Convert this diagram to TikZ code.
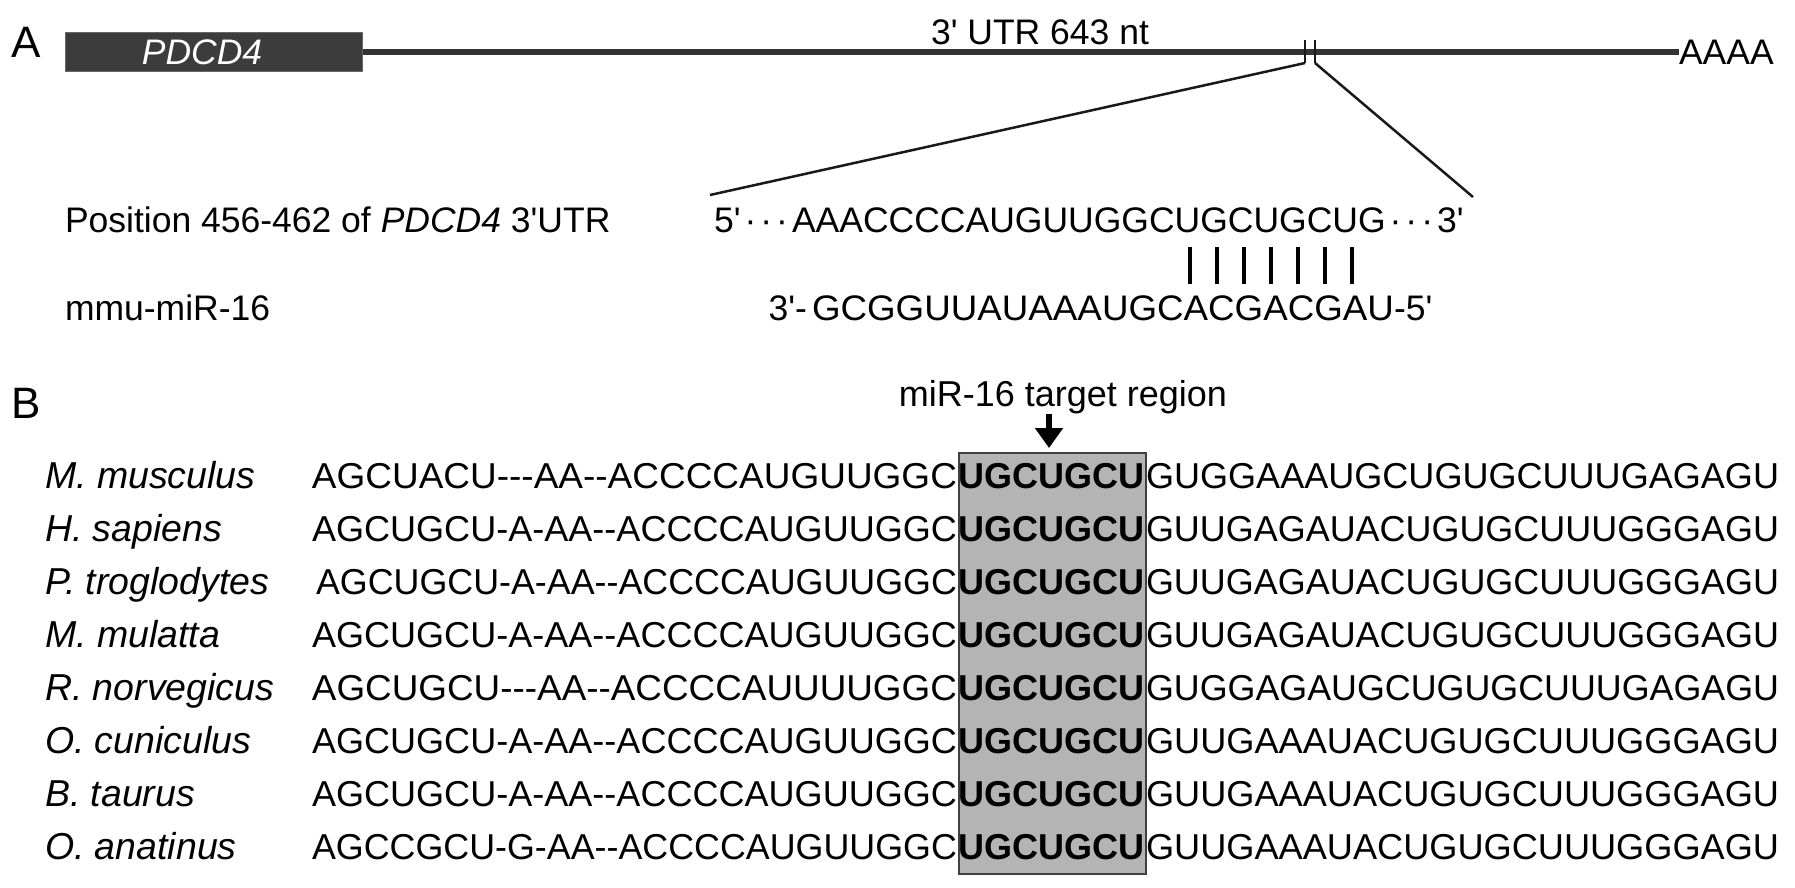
\documentclass[tikz,border=0pt]{standalone}
\usepackage{fontspec}
\usepackage{graphicx}
\setmainfont{Liberation Sans}
\usetikzlibrary{arrows.meta}
\newcommand\hy{\hbox{-}}
\newcommand\q{\textquotesingle}
\newcommand\dotsep{\kern4pt}
\newcommand\md{·}
\definecolor{genegray}{HTML}{3C3C3C}
\definecolor{boxgray}{HTML}{B4B4B4}
\begin{document}
\begin{tikzpicture}[x=1pt,y=-1pt,
  lab/.style={inner sep=0pt, outer sep=0pt, font=\fontsize{44}{48}\selectfont},
  txt/.style={inner sep=0pt, outer sep=0pt, font=\fontsize{35.5}{40}\selectfont},
  seq/.style={inner sep=0pt, outer sep=0pt, font=\fontsize{36}{40}\selectfont},
  bseq/.style={seq, font=\fontsize{36}{40}\selectfont\bfseries},
  spc/.style={seq, font=\fontsize{37.5}{40}\selectfont\itshape},
  thin/.style={line width=2.5pt, black!90},
  pair/.style={line width=4pt, black},
]
\useasboundingbox (0,0) rectangle (1795,887);

% ---------- Panel A ----------
\node[lab, anchor=base west] (labA) at (11,57) {A};
\node[draw=black!60, line width=1pt, fill=genegray, minimum width=297pt, minimum height=39pt,
      inner sep=0pt, anchor=north west] (cds) at (65,32) {};
\node[txt, text=white, font=\fontsize{35.5}{40}\selectfont\itshape] (cdslab) at (202,52) {PDCD4};
\coordinate (utrend) at (1679,52);
\draw[line width=6pt, black!80] (cds.east) -- (utrend);
\node[txt, anchor=west] (polyA) at (utrend) {AAAA};
\node[txt, anchor=base] (utrlab) at (1040,44) {3\q{} UTR 643 nt};

\coordinate (t1top) at (1305,40);
\coordinate (t1bot) at (1305,63);
\coordinate (t2top) at (1315,40);
\coordinate (t2bot) at (1315,63);
\draw[thin] (t1top) -- (t1bot);
\draw[thin] (t2top) -- (t2bot);
\coordinate (zl) at (710,195);
\coordinate (zr) at (1473,197);
\draw[thin] (t1bot) -- (zl);
\draw[thin] (t2bot) -- (zr);

\node[txt, anchor=base west] (poslab) at (65,232) {Position 456-462 of \textit{PDCD4} 3\q UTR};
\node[txt, anchor=base west] (mirlab) at (65,320) {mmu-miR-16};

\node[txt, anchor=base west] (utrseq) at (792,232) {AAACCCCAUGUUGGCUGCUGCUG};
\node[txt, anchor=base east] (utr5) at (utrseq.base west) {5\q\kern4pt\md\dotsep\md\dotsep\md\kern4pt};
\node[txt, anchor=base west] (utr3) at (utrseq.base east) {\kern4pt\md\dotsep\md\dotsep\md\kern4pt 3\q};

\node[txt, anchor=base west] (mirseq) at (812,320) {\resizebox{582pt}{\height}{GCGGUUAUAAAUGCACGACGAU}};
\node[txt, anchor=base east] (mir3) at (807,320) {3\q\hy};
\node[txt, anchor=base west] (mir5) at (mirseq.base east) {\hy5\q};

\foreach \k in {0,...,6} {
  \coordinate (pt\k) at ({1190+27*\k},247);
  \coordinate (pb\k) at ({1190+27*\k},284);
  \draw[pair] (pt\k) -- (pb\k);
}

% ---------- Panel B ----------
\node[lab, anchor=base west] (labB) at (11,418) {B};
\node[draw=black!75, line width=1.5pt, fill=boxgray, anchor=north west,
      minimum width=187pt, minimum height=421pt, inner sep=0pt] (target) at (958,452) {};
\node[seq, anchor=base] (tlab) at (1063,406) {miR-16 target region};
\coordinate (arrtop) at (1049,414);
\draw[line width=6pt, -{Triangle[width=27pt,length=20pt]}, shorten >=4pt]
  (arrtop) -- (arrtop |- target.north);

\foreach \i/\sp/\pre/\pw/\post in {
  0/M. musculus/AGCUACU\hy\hy\hy AA\hy\hy ACCCCAUGUUGGC/645/GUGGAAAUGCUGUGCUUUGAGAGU,
  1/H. sapiens/AGCUGCU\hy A\hy AA\hy\hy ACCCCAUGUUGGC/645/GUUGAGAUACUGUGCUUUGGGAGU,
  2/P. troglodytes/AGCUGCU\hy A\hy AA\hy\hy ACCCCAUGUUGGC/641/GUUGAGAUACUGUGCUUUGGGAGU,
  3/M. mulatta/AGCUGCU\hy A\hy AA\hy\hy ACCCCAUGUUGGC/645/GUUGAGAUACUGUGCUUUGGGAGU,
  4/R. norvegicus/AGCUGCU\hy\hy\hy AA\hy\hy ACCCCAUUUUGGC/645/GUGGAGAUGCUGUGCUUUGAGAGU,
  5/O. cuniculus/AGCUGCU\hy A\hy AA\hy\hy ACCCCAUGUUGGC/645/GUUGAAAUACUGUGCUUUGGGAGU,
  6/B. taurus/AGCUGCU\hy A\hy AA\hy\hy ACCCCAUGUUGGC/645/GUUGAAAUACUGUGCUUUGGGAGU,
  7/O. anatinus/AGCCGCU\hy G\hy AA\hy\hy ACCCCAUGUUGGC/645/GUUGAAAUACUGUGCUUUGGGAGU} {
  \node[spc, anchor=base west] (sp\i) at (45,{488+53.1*\i}) {\sp};
  \node[seq, anchor=base east] (pre\i) at (957,{488+53.1*\i}) {\resizebox{\pw pt}{\height}{\pre}};
  \node[bseq, anchor=base] (mid\i) at (1051.5,{488+53.1*\i}) {UGCUGCU};
  \node[seq, anchor=base west] (post\i) at (1146,{488+53.1*\i}) {\resizebox{633pt}{\height}{\post}};
}
\end{tikzpicture}
\end{document}
